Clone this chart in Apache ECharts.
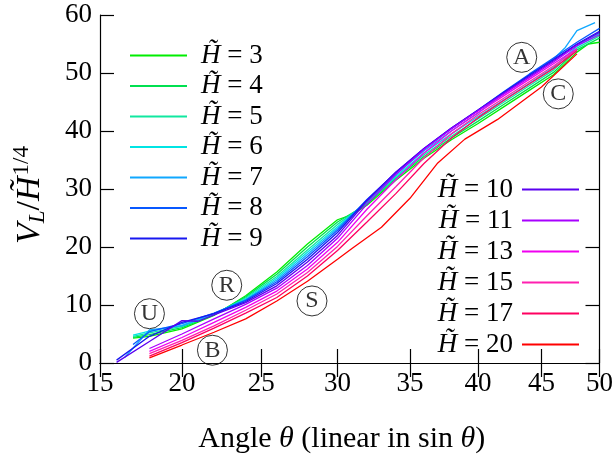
<!DOCTYPE html>
<html>
<head>
<meta charset="utf-8">
<script src="https://cdn.jsdelivr.net/npm/echarts@6/dist/echarts.min.js"></script>
<style>
  html, body { margin: 0; padding: 0; background: #ffffff; }
  #chart { width: 616px; height: 459px; }
</style>
</head>
<body>
<div id="chart"></div>
<script>
// Tick labels (degrees); the horizontal scale is linear in sin(theta)
const angleTicks = [15, 20, 25, 30, 35, 40, 45, 50];
const valueTicks = [0, 10, 20, 30, 40, 50, 60];

// Each curve: [theta in degrees, V_L / H~^(1/4)]
const h3 = [[17,4.3],[18,4.6],[20,5.9],[22,8.2],[24,11.6],[26,15.7],[28,20.5],[30,24.7],[31,25.6],[32,27.2],[34,31.5],[36,35.3],[38,38.5],[40,41.3],[42,44.2],[44,47.0],[46,49.7],[48,53.6],[49,55.0],[50,55.3]];
const h4 = [[17,4.4],[18,4.9],[20,6.1],[22,8.3],[24,11.4],[26,15.3],[28,20.0],[30,24.3],[32,27.4],[34,31.8],[36,35.6],[38,38.8],[40,41.7],[42,44.6],[44,47.4],[46,50.1],[48,54.0],[50,56.0]];
const h5 = [[17,4.6],[18,5.2],[20,6.3],[22,8.4],[24,11.2],[26,14.9],[28,19.5],[30,23.9],[32,27.6],[34,32.0],[36,35.9],[38,39.1],[40,42.1],[42,45.0],[44,47.8],[46,50.5],[48,54.3],[50,56.4]];
const h6 = [[17,4.8],[18,5.5],[20,6.5],[22,8.5],[24,11.0],[26,14.6],[28,19.1],[30,23.5],[32,27.8],[34,32.2],[36,36.2],[38,39.5],[40,42.5],[42,45.4],[44,48.2],[46,51.0],[48,54.6],[50,56.8]];
const h7 = [[16.5,1.0],[18,5.7],[20,6.4],[22,8.5],[24,10.9],[26,14.3],[28,18.7],[30,23.2],[32,28.0],[34,32.5],[36,36.6],[38,40.0],[40,43.1],[42,46.5],[44,49.6],[46,52.4],[47,54.4],[48,57.3],[49.6,58.7]];
const h8 = [[17,3.2],[18,5.4],[20,6.8],[22,8.6],[24,10.8],[26,14.0],[28,18.3],[30,22.9],[32,28.2],[34,32.8],[36,36.9],[38,40.4],[40,43.6],[42,46.8],[44,49.8],[46,52.6],[48,55.3],[50,57.7]];
const h9 = [[16,0.5],[18,4.6],[20,7.0],[22,8.5],[24,10.6],[26,13.7],[28,17.9],[30,22.5],[32,28.1],[34,32.9],[36,37.0],[38,40.5],[40,43.6],[42,46.7],[44,49.6],[46,52.3],[48,55.0],[50,57.2]];
const h10 = [[16,0.1],[18,3.7],[20,7.3],[21,7.2],[22,8.3],[24,10.4],[26,13.3],[28,17.4],[30,22.0],[32,27.9],[34,32.9],[36,37.0],[38,40.5],[40,43.6],[42,46.6],[44,49.4],[46,52.1],[48,54.9],[50,57.0]];
const h11 = [[18,2.5],[20,5.0],[22,7.6],[24,10.1],[26,12.9],[28,16.8],[30,21.5],[32,27.4],[34,32.5],[36,36.8],[38,40.4],[40,43.5],[42,46.4],[44,49.2],[46,51.9],[48,54.7],[50,56.6]];
const h13 = [[18,2.0],[20,4.4],[22,7.0],[24,9.6],[26,12.4],[28,16.2],[30,20.8],[32,26.5],[34,31.6],[36,36.2],[38,40.0],[40,43.2],[42,46.1],[44,48.9],[46,51.6],[48,54.2]];
const h15 = [[18,1.6],[20,3.9],[22,6.4],[24,9.1],[26,11.9],[28,15.6],[30,20.1],[32,25.4],[34,30.4],[36,35.4],[38,39.5],[40,42.8],[42,45.7],[44,48.5],[46,51.2],[48,54.0]];
const h17 = [[18,1.2],[20,3.5],[22,6.0],[24,8.6],[26,11.3],[28,15.0],[30,19.4],[32,24.3],[34,29.2],[36,34.4],[38,38.8],[40,42.3],[42,45.3],[44,48.1],[46,50.8],[48,53.8]];
const h20 = [[18,0.9],[20,3.1],[22,5.3],[24,7.6],[26,10.7],[28,14.1],[30,17.9],[31,19.8],[33,23.4],[35,28.4],[37,34.5],[39,38.6],[41.5,42.0],[45,47.6],[48,53.3]];

const heights = [3, 4, 5, 6, 7, 8, 9, 10, 11, 13, 15, 17, 20];
const curves = [h3, h4, h5, h6, h7, h8, h9, h10, h11, h13, h15, h17, h20];
const colors = ['#00ee00', '#00e050', '#10e8a0', '#00e4e4', '#10a8ff', '#0858ff', '#1818f0',
                '#5a00f0', '#a800ff', '#f000f0', '#ff20b0', '#ff0060', '#ff0000'];

// Circled region labels
const noteLetters = ['A', 'C', 'R', 'S', 'U', 'B'];
const noteAngles = [43.4, 46.4, 22.8, 28.3, 18.0, 21.9];
const noteValues = [52.7, 46.4, 13.4, 10.7, 8.5, 2.2];

const FONT = 'Liberation Serif';
const rad = d => d * Math.PI / 180;
const toSin = d => Math.sin(rad(d));
const fromSin = s => Math.round(Math.asin(s) * 180 / Math.PI);

const names = heights.map(h => 'H\u0303 = ' + h);
const legendFormatter = n => '{h|' + n.slice(0, 2) + '}' + n.slice(2);

const xMin = toSin(angleTicks[0]);
const xMax = toSin(angleTicks[angleTicks.length - 1]);
const xTickVals = angleTicks.map(toSin);

const lineSeries = curves.map((c, i) => ({
  name: names[i],
  type: 'line',
  data: c.map(p => [toSin(p[0]), p[1]]),
  symbol: 'none',
  color: colors[i],
  lineStyle: { color: colors[i], width: 1.3 },
  z: 3
}));

const noteSeries = {
  type: 'scatter',
  name: 'notes',
  data: noteAngles.map((a, i) => [toSin(a), noteValues[i], noteLetters[i]]),
  symbol: 'circle',
  symbolSize: 30,
  silent: true,
  itemStyle: { color: 'rgba(0,0,0,0)', borderColor: '#000', borderWidth: 1 },
  label: {
    show: true, position: 'inside', formatter: p => p.value[2],
    color: '#000', fontFamily: FONT, fontSize: 24
  },
  z: 5
};

const legendText = {
  fontFamily: FONT, fontSize: 27, color: '#000', lineHeight: 27,
  rich: { h: { fontFamily: FONT, fontSize: 27, fontStyle: 'italic', color: '#000' } }
};

const tickStyle = { lineStyle: { color: '#000', width: 1.2 } };

const option = {
  animation: false,
  backgroundColor: '#ffffff',
  grid: { left: 100, right: 16, top: 15, bottom: 93 },
  legend: [
    {
      data: names.slice(0, 7),
      orient: 'vertical', left: 130, top: 42, padding: 0,
      icon: 'rect', itemWidth: 57, itemHeight: 2, itemGap: 3.5,
      align: 'left', selectedMode: false,
      formatter: legendFormatter,
      textStyle: Object.assign({ padding: [0, 0, 0, 9] }, legendText)
    },
    {
      data: names.slice(7),
      orient: 'vertical', right: 37, top: 176, padding: 0,
      icon: 'rect', itemWidth: 57, itemHeight: 2, itemGap: 4,
      align: 'right', selectedMode: false,
      formatter: legendFormatter,
      textStyle: Object.assign({ padding: [0, 4, 0, 0] }, legendText)
    }
  ],
  xAxis: [
    {
      type: 'value', min: xMin, max: xMax, position: 'bottom',
      axisLine: { show: true, lineStyle: { color: '#000', width: 1.2 } },
      axisTick: Object.assign({ show: true, inside: true, length: 14, customValues: xTickVals }, tickStyle),
      axisLabel: {
        customValues: xTickVals, formatter: v => String(fromSin(v)),
        color: '#000', fontFamily: FONT, fontSize: 27, margin: 7
      },
      splitLine: { show: false },
      name: 'Angle {i|\u03b8} (linear in sin {i|\u03b8})',
      nameLocation: 'middle', nameGap: 61,
      nameTextStyle: {
        color: '#000', fontFamily: FONT, fontSize: 30, padding: [0, 16, 0, 0],
        rich: { i: { fontFamily: FONT, fontSize: 30, fontStyle: 'italic', color: '#000' } }
      }
    },
    {
      type: 'value', min: xMin, max: xMax, position: 'top',
      axisLine: { show: true, lineStyle: { color: '#000', width: 1.2 } },
      axisTick: Object.assign({ show: true, inside: true, length: 14, customValues: xTickVals }, tickStyle),
      axisLabel: { show: false },
      splitLine: { show: false }
    }
  ],
  yAxis: [
    {
      type: 'value', min: valueTicks[0], max: valueTicks[valueTicks.length - 1], interval: 10,
      position: 'left',
      axisLine: { show: true, lineStyle: { color: '#000', width: 1.2 } },
      axisTick: Object.assign({ show: true, inside: true, length: 14 }, tickStyle),
      axisLabel: { color: '#000', fontFamily: FONT, fontSize: 27, margin: 8 },
      splitLine: { show: false },
      name: '{v|V}{s|L}{n|/}{v|H\u0303}{p|1/4}',
      nameLocation: 'middle', nameGap: 50, nameRotate: 90,
      nameTextStyle: {
        color: '#000', fontFamily: FONT, fontSize: 34,
        rich: {
          v: { fontFamily: FONT, fontSize: 34, fontStyle: 'italic', color: '#000' },
          n: { fontFamily: FONT, fontSize: 34, color: '#000' },
          s: { fontFamily: FONT, fontSize: 23, fontStyle: 'italic', color: '#000', padding: [16, 0, 0, 0] },
          p: { fontFamily: FONT, fontSize: 23, color: '#000', padding: [0, 12, 17, 1] }
        }
      }
    },
    {
      type: 'value', min: valueTicks[0], max: valueTicks[valueTicks.length - 1], interval: 10,
      position: 'right',
      axisLine: { show: true, lineStyle: { color: '#000', width: 1.2 } },
      axisTick: Object.assign({ show: true, inside: true, length: 14 }, tickStyle),
      axisLabel: { show: false },
      splitLine: { show: false }
    }
  ],
  series: lineSeries.concat([noteSeries])
};

const chart = echarts.init(document.getElementById('chart'), null, { renderer: 'canvas' });
chart.setOption(option);
</script>
</body>
</html>
